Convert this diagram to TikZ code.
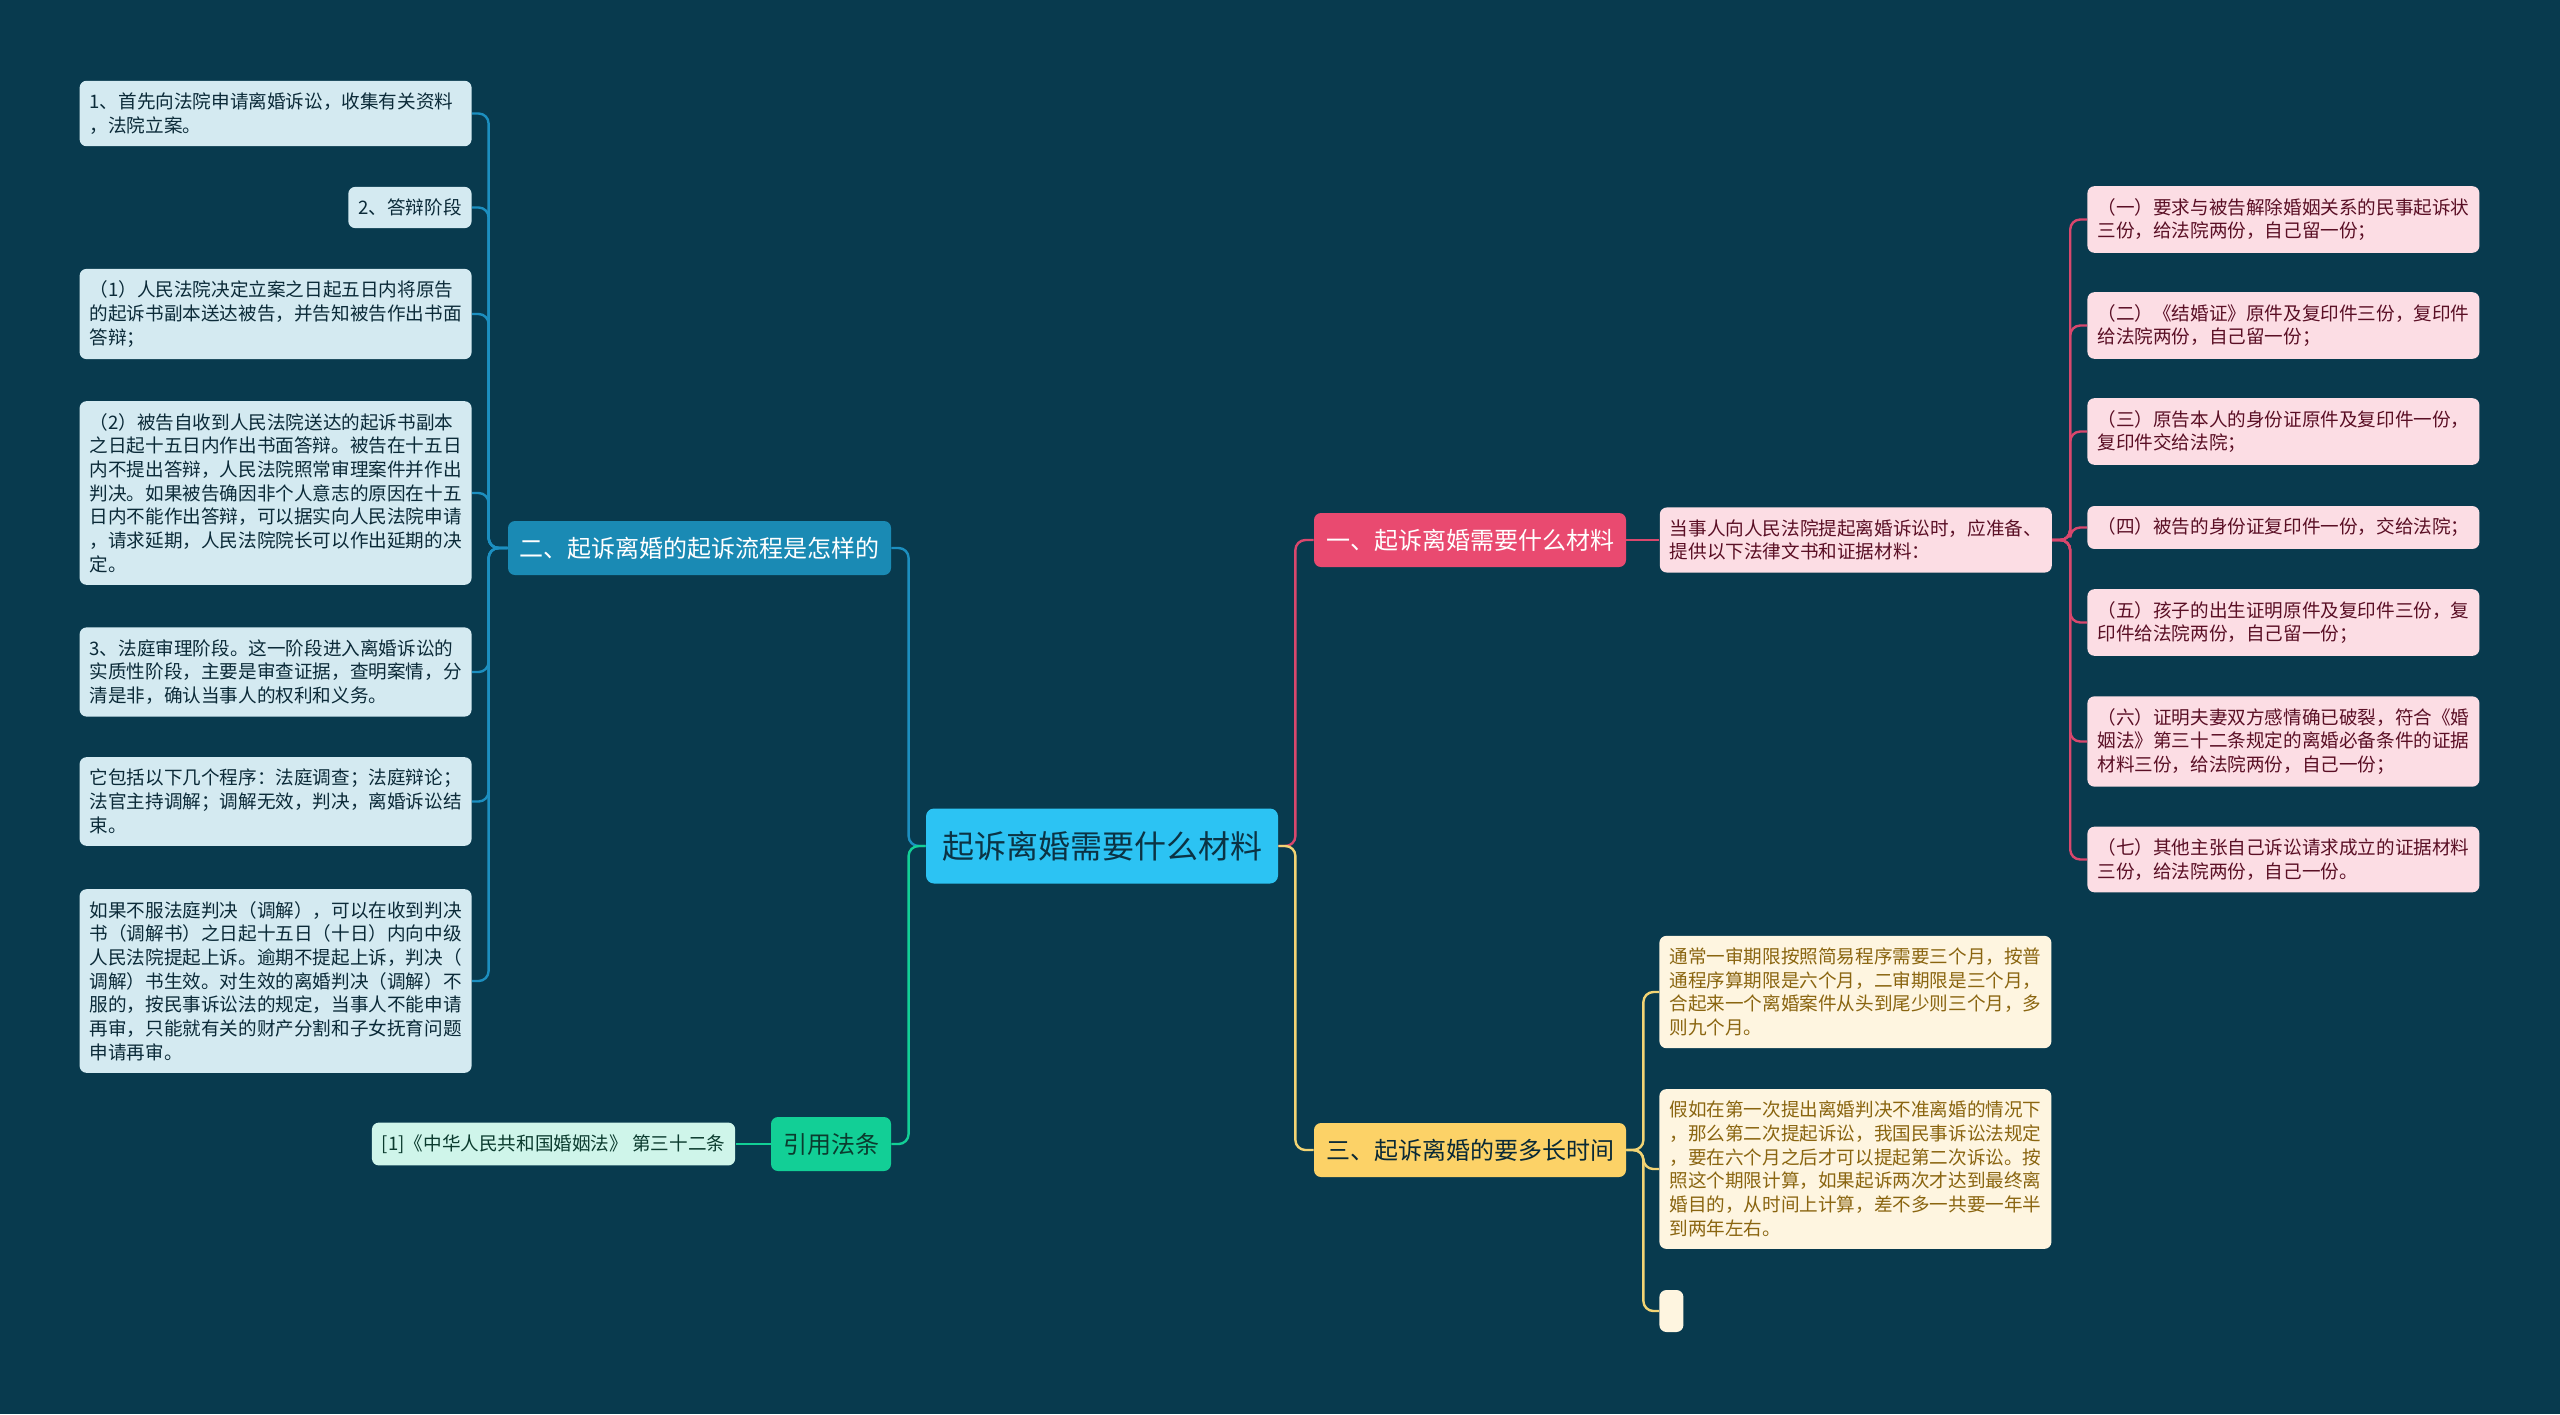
\documentclass[tikz,border=0pt]{standalone}
\usepackage{fontspec}
\setmainfont{Noto Sans CJK SC}
\usepackage{xcolor}
\usepackage{tikz}
\usetikzlibrary{positioning}
\definecolor{MapBg}{HTML}{083A4E}
\definecolor{RootFill}{HTML}{2CC3F3}
\definecolor{RootText}{HTML}{0B3344}
\definecolor{FlowBlue}{HTML}{1A8AB4}
\definecolor{FlowLine}{HTML}{1C8FC0}
\definecolor{FlowLeaf}{HTML}{D4EAF1}
\definecolor{FlowText}{HTML}{0B2A38}
\definecolor{LawGreen}{HTML}{12CF96}
\definecolor{LawLeaf}{HTML}{CFF5EA}
\definecolor{LawText}{HTML}{0B3B2E}
\definecolor{MatRed}{HTML}{E94A70}
\definecolor{MatLine}{HTML}{D9476D}
\definecolor{MatLeaf}{HTML}{FCDDE4}
\definecolor{MatText}{HTML}{5A0F25}
\definecolor{TimeGold}{HTML}{FCD267}
\definecolor{TimeLine}{HTML}{F2D474}
\definecolor{TimeLeaf}{HTML}{FEF5E0}
\definecolor{TimeText}{HTML}{8A6510}

\begin{document}
\begin{tikzpicture}[
  x=0.5pt, y=-0.5pt,
  root/.style={fill=RootFill, text=RootText, rounded corners=4pt, minimum width=176pt, minimum height=37.5pt, inner sep=0pt, font=\fontsize{16}{19}\selectfont},
  branch/.style={rounded corners=3.5pt, minimum height=27pt, inner sep=0pt, font=\fontsize{12}{14}\selectfont},
  leaf/.style={rounded corners=3.5pt, inner xsep=5pt, inner ysep=6pt, align=left, font=\fontsize{9.3}{11.85}\selectfont},
  flowleaf/.style={leaf, fill=FlowLeaf, text=FlowText},
  matleaf/.style={leaf, fill=MatLeaf, text=MatText, text width=186pt},
  timeleaf/.style={leaf, fill=TimeLeaf, text=TimeText, text width=186pt},
  link/.style={line width=1.2pt, rounded corners=5pt}
]
  \fill[MapBg] (0,0) rectangle (2560,1414);
  \useasboundingbox (0,0) rectangle (2560,1414);

  % centre and main topics
  \node[root] (root) at (1102,846) {起诉离婚需要什么材料};
  \node[branch, fill=FlowBlue, text=white, minimum width=191.5pt] (flow) at (699.5,548) {二、起诉离婚的起诉流程是怎样的};
  \node[branch, fill=LawGreen, text=LawText, minimum width=60pt] (law) at (831,1144) {引用法条};
  \node[branch, fill=MatRed, text=white, minimum width=156pt] (mat) at (1470,540) {一、起诉离婚需要什么材料};
  \node[branch, fill=TimeGold, text=RootText!80!black, minimum width=156pt] (time) at (1470,1150) {三、起诉离婚的要多长时间};

  % left side
  \node[flowleaf, text width=186pt, anchor=east] (fa) at (472,113.5) {1、首先向法院申请离婚诉讼，收集有关资料\\，法院立案。};
  \node[flowleaf, anchor=east] (fb) at (472,207.5) {2、答辩阶段};
  \node[flowleaf, text width=186pt, anchor=east] (fc) at (472,314) {（1）人民法院决定立案之日起五日内将原告\\的起诉书副本送达被告，并告知被告作出书面\\答辩；};
  \node[flowleaf, text width=186pt, anchor=east] (fd) at (472,493) {（2）被告自收到人民法院送达的起诉书副本\\之日起十五日内作出书面答辩。被告在十五日\\内不提出答辩，人民法院照常审理案件并作出\\判决。如果被告确因非个人意志的原因在十五\\日内不能作出答辩，可以据实向人民法院申请\\，请求延期，人民法院院长可以作出延期的决\\定。};
  \node[flowleaf, text width=186pt, anchor=east] (fe) at (472,672) {3、法庭审理阶段。这一阶段进入离婚诉讼的\\实质性阶段，主要是审查证据，查明案情，分\\清是非，确认当事人的权利和义务。};
  \node[flowleaf, text width=186pt, anchor=east] (ff) at (472,801.5) {它包括以下几个程序：法庭调查；法庭辩论；\\法官主持调解；调解无效，判决，离婚诉讼结\\束。};
  \node[flowleaf, text width=186pt, anchor=east] (fg) at (472,981) {如果不服法庭判决（调解），可以在收到判决\\书（调解书）之日起十五日（十日）内向中级\\人民法院提起上诉。逾期不提起上诉，判决（\\调解）书生效。对生效的离婚判决（调解）不\\服的，按民事诉讼法的规定，当事人不能申请\\再审，只能就有关的财产分割和子女抚育问题\\申请再审。};
  \node[leaf, fill=LawLeaf, text=LawText, left=17.5pt of law] (lawref) {[1]《中华人民共和国婚姻法》 第三十二条};

  % right side
  \node[matleaf, right=16.5pt of mat] (matintro) {当事人向人民法院提起离婚诉讼时，应准备、\\提供以下法律文书和证据材料：};
  \node[matleaf, anchor=west] (m1) at (2087,219.5) {（一）要求与被告解除婚姻关系的民事起诉状\\三份，给法院两份，自己留一份；};
  \node[matleaf, anchor=west] (m2) at (2087,325.5) {（二）《结婚证》原件及复印件三份，复印件\\给法院两份，自己留一份；};
  \node[matleaf, anchor=west] (m3) at (2087,431.5) {（三）原告本人的身份证原件及复印件一份，\\复印件交给法院；};
  \node[matleaf, anchor=west] (m4) at (2087,527.5) {（四）被告的身份证复印件一份，交给法院；};
  \node[matleaf, anchor=west] (m5) at (2087,622.5) {（五）孩子的出生证明原件及复印件三份，复\\印件给法院两份，自己留一份；};
  \node[matleaf, anchor=west] (m6) at (2087,741.5) {（六）证明夫妻双方感情确已破裂，符合《婚\\姻法》第三十二条规定的离婚必备条件的证据\\材料三份，给法院两份，自己一份；};
  \node[matleaf, anchor=west] (m7) at (2087,859.5) {（七）其他主张自己诉讼请求成立的证据材料\\三份，给法院两份，自己一份。};

  \node[timeleaf, anchor=west] (t1) at (1659,992) {通常一审期限按照简易程序需要三个月，按普\\通程序算期限是六个月，二审期限是三个月，\\合起来一个离婚案件从头到尾少则三个月，多\\则九个月。};
  \node[timeleaf, anchor=west] (t2) at (1659,1169) {假如在第一次提出离婚判决不准离婚的情况下\\，那么第二次提起诉讼，我国民事诉讼法规定\\，要在六个月之后才可以提起第二次诉讼。按\\照这个期限计算，如果起诉两次才达到最终离\\婚目的，从时间上计算，差不多一共要一年半\\到两年左右。};
  \node[fill=TimeLeaf, rounded corners=3.5pt, inner sep=0pt, minimum width=12pt, minimum height=21pt, anchor=west] (t3) at (1659,1311) {};

  % connectors
  \draw[link, FlowLine] (root.west) -- ++(-17,0) |- (flow.east);
  \draw[link, LawGreen] (root.west) -- ++(-17,0) |- (law.east);
  \draw[link, MatLine] (root.east) -- ++(17,0) |- (mat.west);
  \draw[link, TimeLine] (root.east) -- ++(17,0) |- (time.west);
  \foreach \n in {fa,fb,fc,fd,fe,ff,fg}
    \draw[link, FlowLine] (flow.west) -- ++(-19,0) |- (\n.east);
  \draw[link, LawGreen] (law) -- (lawref);
  \draw[link, MatLine] (mat) -- (matintro);
  \foreach \n in {m1,m2,m3,m4,m5,m6,m7}
    \draw[link, MatLine] (matintro.east) -- ++(18,0) |- (\n.west);
  \foreach \n in {t1,t2,t3}
    \draw[link, TimeLine] (time.east) -- ++(17,0) |- (\n.west);
\end{tikzpicture}
\end{document}
